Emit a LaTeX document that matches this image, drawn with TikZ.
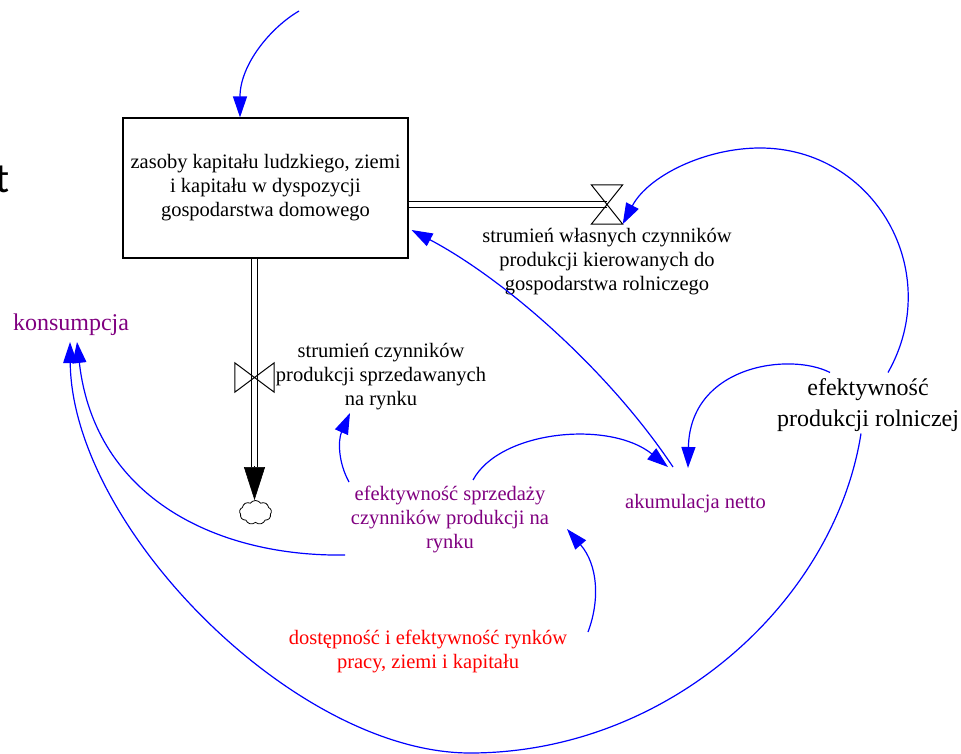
\documentclass[tikz,border=0pt]{standalone}
\usepackage{fontspec}
\setmainfont{Liberation Serif}
\newfontfamily\tfont{Carlito}
\usetikzlibrary{arrows.meta,shapes.symbols,calc}
\definecolor{vpurple}{RGB}{128,0,128}
\definecolor{vblue}{RGB}{0,0,255}
\definecolor{vred}{RGB}{255,0,0}
\begin{document}
\begin{tikzpicture}[x=1pt,y=-1pt,
  lab/.style={align=center, inner sep=0pt, font=\fontsize{20.5}{24}\selectfont},
  stockbox/.style={draw, line width=1.1pt, minimum width=285pt, minimum height=140pt, inner sep=0pt, align=center, font=\fontsize{20.5}{24}\selectfont},
  link/.style={vblue, line width=1.2pt, -{Triangle[length=21pt,width=14pt]}},
  pipe/.style={double, double distance=5pt, line width=1.1pt},
  valvesh/.style={line width=1pt, line join=miter},
  flowtip/.style={line width=0.6pt, -{Triangle[length=33pt,width=21pt]}},
]
\useasboundingbox (0,0) rectangle (961,754);
\clip (0,0) rectangle (961,754);

% nodes
\node[stockbox] (stock) at (265.5,188) {zasoby kapitału ludzkiego, ziemi\\i kapitału w dyspozycji\\gospodarstwa domowego};
\node[minimum width=31pt, minimum height=39pt, inner sep=0pt] (v1) at (607,204.5) {};
\node[minimum width=39pt, minimum height=29pt, inner sep=0pt] (v2) at (254.5,377.5) {};
\node[cloud, draw, cloud puffs=9, cloud puff arc=110, aspect=1.3, minimum width=32pt, minimum height=24pt, inner sep=0pt, line width=0.8pt] (cloud) at (255.5,512.5) {};

\node[lab] (f1lab) at (607,262) {strumień własnych czynników\\produkcji kierowanych do\\gospodarstwa rolniczego};
\node[lab] (f2lab) at (381,377) {strumień czynników\\produkcji sprzedawanych\\na rynku};
\node[lab, text=vpurple, font=\fontsize{24}{28}\selectfont] (kons) at (71,325) {konsumpcja};
\node[lab, text=vpurple] (efs) at (450,519) {efektywność sprzedaży\\czynników produkcji na\\rynku};
\node[lab, text=vpurple] (akum) at (695.5,504) {akumulacja netto};
\node[lab, font=\fontsize{24}{31}\selectfont] (efp) at (868,405.5) {efektywność\\produkcji rolniczej};
\node[lab, text=vred] (dost) at (428,651.5) {dostępność i efektywność rynków\\pracy, ziemi i kapitału};
\node[font=\tfont\fontsize{42}{42}\selectfont, anchor=base west, inner sep=0pt] (tcut) at (-5,193) {t};
\coordinate (ext) at (299,11);

% flows
\draw[pipe] (stock.east |- v1.center) -- (v1.center);
\draw[valvesh] (v1.north west) -- (v1.north east) -- (v1.south west) -- (v1.south east) -- cycle;
\draw[pipe] (stock.south -| v2.center) -- ($(v2.center |- cloud.north)+(0,-33)$);
\draw[flowtip] ($(v2.center |- cloud.north)+(0,-34)$) -- (v2.center |- cloud.north);
\draw[valvesh] (v2.north west) -- (v2.south west) -- (v2.north east) -- (v2.south east) -- cycle;

% links
\draw[link] (ext) .. controls (270,28) and (240,65) .. ($(stock.north)+(-25.5,0)$);
\draw[link] ($(efp)+(20,-33)$) .. controls (945,272) and (875,148) .. (760,148) .. controls (705,148) and (648,176) .. (v1.south east);
\draw[link] ($(efp)+(-38,-33)$) .. controls (790,352) and (690,365) .. ($(akum)+(-7.5,-36)$);
\draw[link] ($(efp)+(-7,28)$) .. controls (835,600) and (670,753) .. (470,753) .. controls (295,753) and (72,527) .. ($(kons)+(-1,17)$);
\draw[link] ($(akum)+(-22.5,-37)$) .. controls (609,371) and (506,280) .. ($(stock.east)+(3,42)$);
\draw[link] ($(efs)+(23,-39)$) .. controls (500,430) and (610,420) .. ($(akum)+(-27.5,-37)$);
\draw[link] ($(efs)+(-101,-37)$) .. controls (338,462) and (338,440) .. ($(f2lab)+(-31,36)$);
\draw[link] ($(efs)+(-105,36)$) .. controls (220,557) and (95,500) .. ($(kons)+(6,17)$);
\draw[link] ($(dost)+(160,-19.5)$) .. controls (600,600) and (598,565) .. ($(efs)+(117,10)$);
\end{tikzpicture}
\end{document}
